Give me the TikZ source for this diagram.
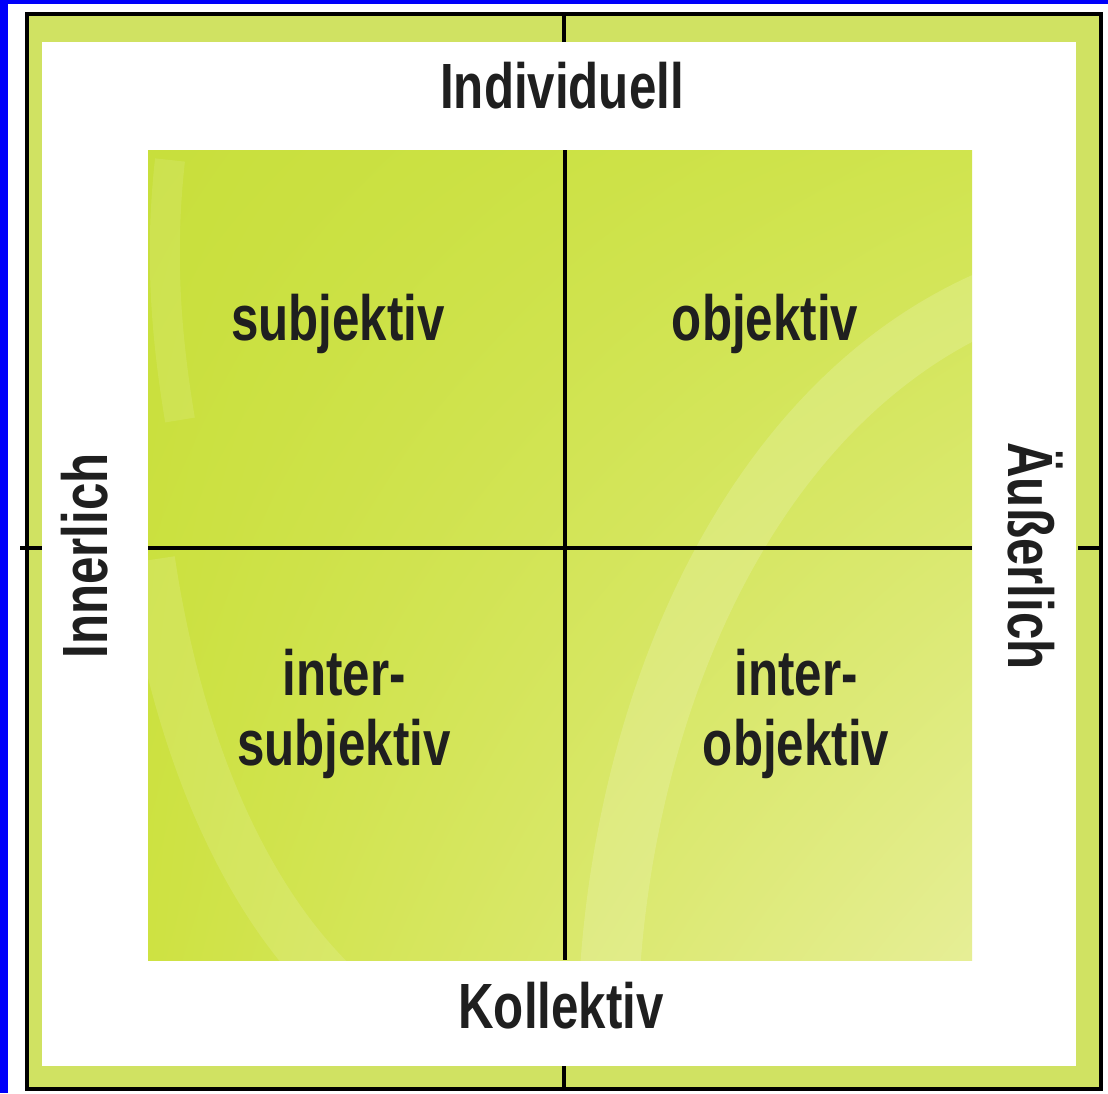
\documentclass[tikz,border=0pt]{standalone}
\usepackage{fontspec}
\newfontfamily\condfont[FakeStretch=0.77]{Liberation Sans}
\usepackage{tikz}
\usetikzlibrary{positioning,shadings}

\definecolor{edgeblue}{RGB}{0,0,250}
\definecolor{bandgreen}{RGB}{208,226,98}
\definecolor{limeTL}{RGB}{200,223,60}
\definecolor{limeTR}{RGB}{208,228,78}
\definecolor{limeBL}{RGB}{206,226,66}
\definecolor{limeBR}{RGB}{230,238,150}

\tikzset{
    lbl/.style={font=\condfont\bfseries\fontsize{18.2}{19.9}\selectfont, text=black!88, inner sep=0pt, anchor=base},
    axis/.style={line width=1.1pt, black}
}

\begin{document}
\begin{tikzpicture}[x=0.1mm, y=-0.1mm]
    \useasboundingbox (0,0) rectangle (1108,1093);
    \fill[white] (0,0) rectangle (1108,1093);
    \fill[edgeblue] (0,0) rectangle (8,1093);
    \fill[edgeblue] (0,0) rectangle (1108,4);

    % frame
    \fill[bandgreen] (27,14) rectangle (1101,1089);
    \fill[white] (42,42) rectangle (1076,1066);
    \draw[axis] (27,14) rectangle (1101,1089);

    % green square
    \shade[upper left=limeTL, upper right=limeTR, lower left=limeBL, lower right=limeBR] (148,150) rectangle (972,960);
    \begin{scope}
        \clip (148,150) rectangle (972,960);
        \draw[white, opacity=0.16, line width=6mm] (610,970) .. controls (630,680) and (760,400) .. (990,300);
        \draw[white, opacity=0.12, line width=5mm] (150,560) .. controls (180,760) and (250,900) .. (330,980);
        \draw[white, opacity=0.1, line width=3mm] (170,160) .. controls (160,250) and (165,330) .. (180,420);
    \end{scope}

    \coordinate (top) at (565,150);
    \coordinate (bot) at (565,960);
    \coordinate (lft) at (148,548);
    \coordinate (rgt) at (972,548);
    \draw[axis] (top) -- (bot);
    \draw[axis] (lft) -- (rgt);

    % ticks on the frame
    \draw[axis] (564,14) -- (564,42);
    \draw[axis] (564,1066) -- (564,1089);
    \draw[axis] (20,548) -- (42,548);
    \draw[axis] (1078,548) -- (1101,548);

    \node[lbl] (indiv) at (562,108) {Individuell};
    \node[lbl] (koll) at (561,1028) {Kollektiv};
    \node[lbl, rotate=90] (inner) at (107,556) {Innerlich};
    \node[lbl, rotate=-90] (ausser) at (1008,556) {Äußerlich};

    \node[lbl] (subj) at (338,340) {subjektiv};
    \node[lbl] (obj) at (765,340) {objektiv};
    \node[lbl, align=center] (isubj) at (344,765) {inter-\\subjektiv};
    \node[lbl, align=center] (iobj) at (796,765) {inter-\\objektiv};
\end{tikzpicture}
\end{document}
